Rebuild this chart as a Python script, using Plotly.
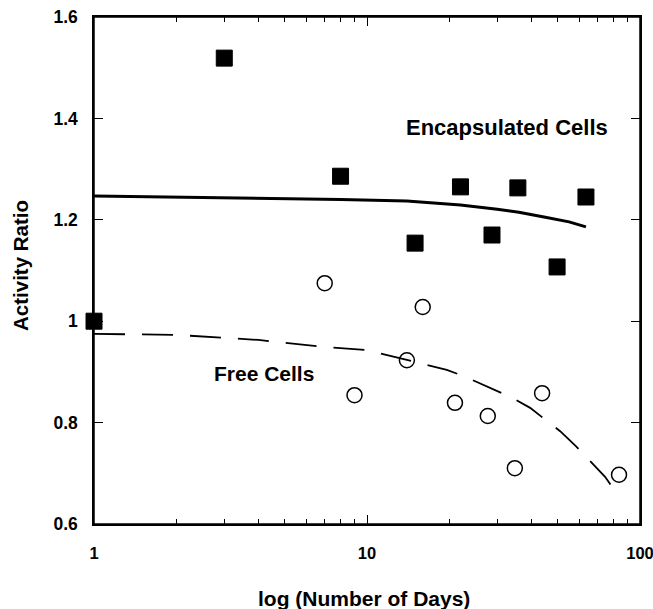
import plotly.graph_objects as go

# Encapsulated cells (filled squares)
enc_days = [1, 3, 8, 15, 22, 28.7, 35.7, 49.7, 63.4]
enc_ratio = [1.0, 1.519, 1.286, 1.154, 1.265, 1.170, 1.263, 1.107, 1.245]

# Free cells (open circles)
free_days = [7, 9, 14, 16, 21, 27.7, 34.8, 43.8, 83.8]
free_ratio = [1.075, 0.854, 0.923, 1.028, 0.839, 0.813, 0.710, 0.858, 0.697]

# Model curve, encapsulated (solid)
enc_fit_days = [1, 4, 8, 14, 22, 30, 36, 45, 55, 63.4]
enc_fit_ratio = [1.247, 1.243, 1.240, 1.237, 1.229, 1.221, 1.215, 1.205, 1.196, 1.186]

# Model curve, free (dashed)
free_fit_days = [1, 2, 4, 7, 10, 14, 19.6, 22.5, 34, 39.6, 51, 58.6, 74.5, 84]
free_fit_ratio = [0.975, 0.973, 0.963, 0.949, 0.943, 0.923, 0.904, 0.892, 0.849, 0.829, 0.783, 0.752, 0.693, 0.653]

x_tickvals = [1, 10, 100]
x_ticktext = ["1", "10", "100"]
x_minor = [2, 3, 4, 5, 6, 7, 8, 9, 20, 30, 40, 50, 60, 70, 80, 90]
y_tickvals = [0.6, 0.8, 1.0, 1.2, 1.4, 1.6]
y_ticktext = ["0.6", "0.8", "1", "1.2", "1.4", "1.6"]

FONT = "Liberation Sans, Arial, sans-serif"

W, H = 653, 609
L, T, R, B = 94, 17, 13, 85

fig = go.Figure()
fig.add_trace(go.Scatter(x=enc_fit_days, y=enc_fit_ratio, mode="lines",
                         line=dict(color="black", width=3), showlegend=False))
fig.add_trace(go.Scatter(x=free_fit_days, y=free_fit_ratio, mode="lines",
                         line=dict(color="black", width=1.8, dash="31px,17px"),
                         showlegend=False))
fig.add_trace(go.Scatter(x=enc_days, y=enc_ratio, mode="markers", cliponaxis=False,
                         marker=dict(symbol="square", size=16, color="black",
                                     line=dict(color="black", width=1)),
                         showlegend=False))
fig.add_trace(go.Scatter(x=free_days, y=free_ratio, mode="markers", cliponaxis=False,
                         marker=dict(symbol="circle-open", size=15, color="black",
                                     line=dict(color="black", width=1.5)),
                         showlegend=False))

fig.update_layout(
    width=W, height=H,
    margin=dict(l=L, r=R, t=T, b=B, autoexpand=False),
    plot_bgcolor="white", paper_bgcolor="white",
    font=dict(family=FONT, color="black"),
    xaxis=dict(type="log", range=[-0.0001, 2.0001], showgrid=False, zeroline=False,
               automargin=False, ticklabeloverflow="allow",
               showline=True, linecolor="black", linewidth=1.5, mirror="ticks",
               ticks="inside", ticklen=9, tickwidth=1.2, tickcolor="black",
               tickvals=x_tickvals, ticktext=x_ticktext,
               tickfont=dict(size=16.5, family=FONT, weight="bold"),
               ticklabelstandoff=13,
               minor=dict(tickvals=x_minor, ticks="inside", ticklen=5,
                          tickwidth=1.2, tickcolor="black", showgrid=False)),
    yaxis=dict(range=[0.5999, 1.6001], showgrid=False, zeroline=False,
               automargin=False, ticklabeloverflow="allow",
               showline=True, linecolor="black", linewidth=1.5, mirror="ticks",
               ticks="inside", ticklen=9, tickwidth=1.2, tickcolor="black",
               tickvals=y_tickvals, ticktext=y_ticktext,
               tickfont=dict(size=17.5, family=FONT, weight="bold"),
               ticklabelstandoff=11),
    shapes=[dict(type="rect", xref="paper", yref="paper", x0=0, x1=1, y0=0, y1=1,
                 line=dict(color="black", width=1.5), layer="above")],
    annotations=[
        dict(text="Encapsulated Cells", x=507, y=127, xref="paper", yref="paper",
             showarrow=False, font=dict(size=22, family=FONT, weight="bold")),
        dict(text="Free Cells", x=264, y=373, xref="paper", yref="paper",
             showarrow=False, font=dict(size=21, family=FONT, weight="bold")),
        dict(text="log (Number of Days)", x=364, y=598, xref="paper", yref="paper",
             showarrow=False, font=dict(size=21, family=FONT, weight="bold")),
        dict(text="Activity Ratio", x=20, y=266, xref="paper", yref="paper",
             textangle=-90, showarrow=False,
             font=dict(size=20.5, family=FONT, weight="bold")),
    ],
)

# convert page-pixel annotation positions to paper coordinates
pw = W - L - R
ph = H - T - B
for a in fig.layout.annotations:
    px, py = a.x, a.y
    a.x = (px - L) / pw
    a.y = 1 - (py - T) / ph
    a.xanchor = "center"
    a.yanchor = "middle"

fig.write_html("out.html", config={"displayModeBar": False},
               post_script="document.body.style.margin='0';"
                           "document.body.style.overflow='hidden';")
